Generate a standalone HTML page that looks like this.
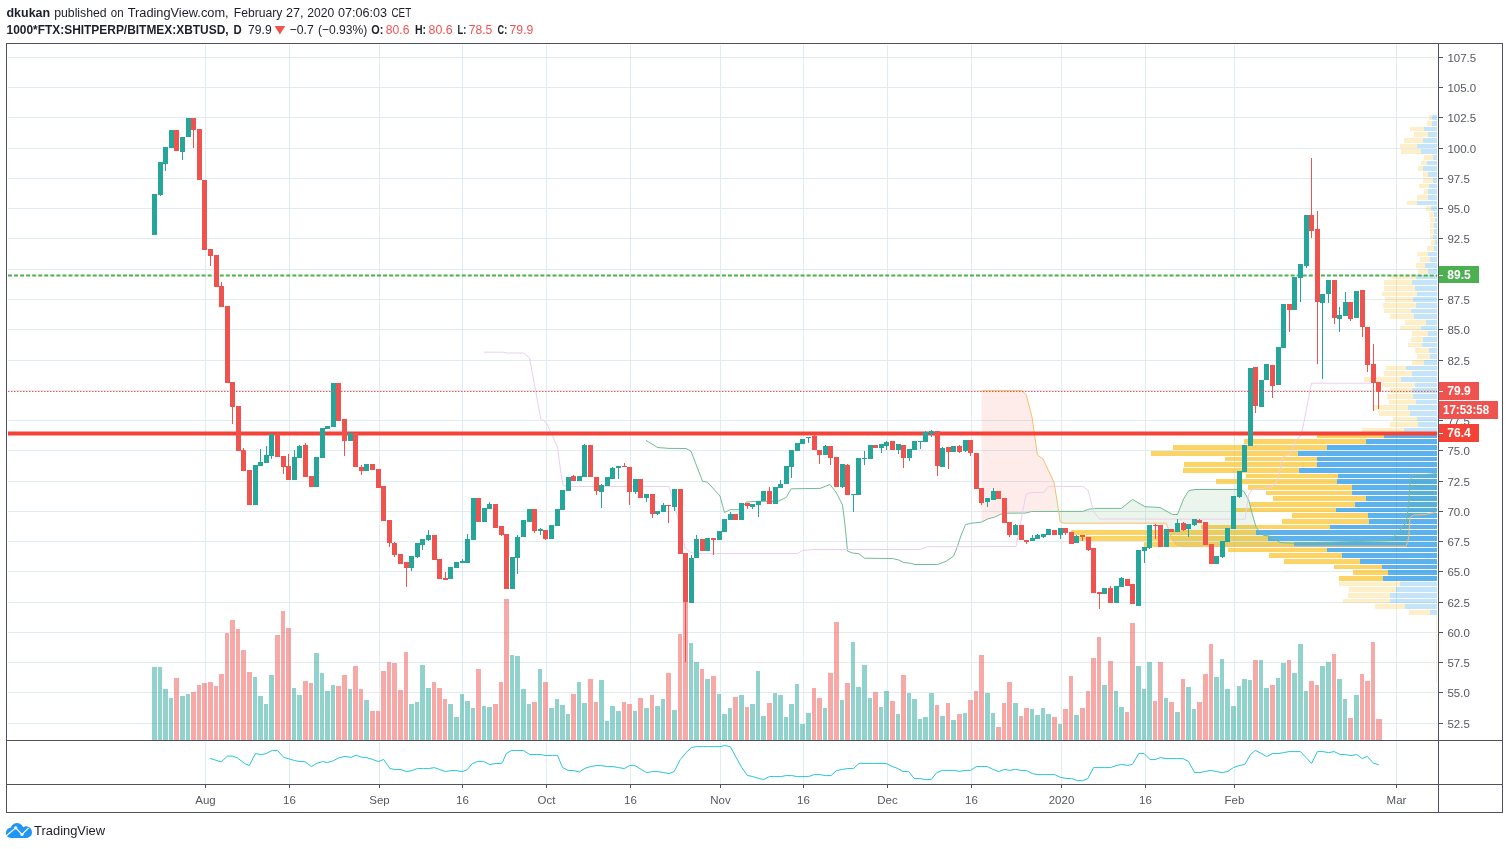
<!DOCTYPE html>
<html><head><meta charset="utf-8"><title>TradingView chart</title>
<style>
html,body{margin:0;padding:0;background:#fff;}
body{width:1509px;height:849px;overflow:hidden;font-family:"Liberation Sans",sans-serif;}
svg{display:block;font-family:"Liberation Sans",sans-serif;will-change:transform;}
</style></head><body>
<svg width="1509" height="849" viewBox="0 0 1509 849">
<rect width="1509" height="849" fill="#fff"/>
<g shape-rendering="crispEdges">
<rect x="8" y="57" width="1429" height="1" fill="#e1ecf2"/>
<rect x="8" y="87" width="1429" height="1" fill="#e1ecf2"/>
<rect x="8" y="117" width="1429" height="1" fill="#e1ecf2"/>
<rect x="8" y="148" width="1429" height="1" fill="#e1ecf2"/>
<rect x="8" y="178" width="1429" height="1" fill="#e1ecf2"/>
<rect x="8" y="208" width="1429" height="1" fill="#e1ecf2"/>
<rect x="8" y="238" width="1429" height="1" fill="#e1ecf2"/>
<rect x="8" y="269" width="1429" height="1" fill="#e1ecf2"/>
<rect x="8" y="299" width="1429" height="1" fill="#e1ecf2"/>
<rect x="8" y="329" width="1429" height="1" fill="#e1ecf2"/>
<rect x="8" y="360" width="1429" height="1" fill="#e1ecf2"/>
<rect x="8" y="390" width="1429" height="1" fill="#e1ecf2"/>
<rect x="8" y="420" width="1429" height="1" fill="#e1ecf2"/>
<rect x="8" y="450" width="1429" height="1" fill="#e1ecf2"/>
<rect x="8" y="481" width="1429" height="1" fill="#e1ecf2"/>
<rect x="8" y="511" width="1429" height="1" fill="#e1ecf2"/>
<rect x="8" y="541" width="1429" height="1" fill="#e1ecf2"/>
<rect x="8" y="571" width="1429" height="1" fill="#e1ecf2"/>
<rect x="8" y="602" width="1429" height="1" fill="#e1ecf2"/>
<rect x="8" y="632" width="1429" height="1" fill="#e1ecf2"/>
<rect x="8" y="662" width="1429" height="1" fill="#e1ecf2"/>
<rect x="8" y="692" width="1429" height="1" fill="#e1ecf2"/>
<rect x="8" y="723" width="1429" height="1" fill="#e1ecf2"/>
<rect x="205" y="45" width="1" height="695" fill="#e1ecf2"/>
<rect x="205" y="742" width="1" height="42" fill="#e1ecf2"/>
<rect x="289" y="45" width="1" height="695" fill="#e1ecf2"/>
<rect x="289" y="742" width="1" height="42" fill="#e1ecf2"/>
<rect x="379" y="45" width="1" height="695" fill="#e1ecf2"/>
<rect x="379" y="742" width="1" height="42" fill="#e1ecf2"/>
<rect x="462" y="45" width="1" height="695" fill="#e1ecf2"/>
<rect x="462" y="742" width="1" height="42" fill="#e1ecf2"/>
<rect x="546" y="45" width="1" height="695" fill="#e1ecf2"/>
<rect x="546" y="742" width="1" height="42" fill="#e1ecf2"/>
<rect x="630" y="45" width="1" height="695" fill="#e1ecf2"/>
<rect x="630" y="742" width="1" height="42" fill="#e1ecf2"/>
<rect x="720" y="45" width="1" height="695" fill="#e1ecf2"/>
<rect x="720" y="742" width="1" height="42" fill="#e1ecf2"/>
<rect x="803" y="45" width="1" height="695" fill="#e1ecf2"/>
<rect x="803" y="742" width="1" height="42" fill="#e1ecf2"/>
<rect x="887" y="45" width="1" height="695" fill="#e1ecf2"/>
<rect x="887" y="742" width="1" height="42" fill="#e1ecf2"/>
<rect x="971" y="45" width="1" height="695" fill="#e1ecf2"/>
<rect x="971" y="742" width="1" height="42" fill="#e1ecf2"/>
<rect x="1061" y="45" width="1" height="695" fill="#e1ecf2"/>
<rect x="1061" y="742" width="1" height="42" fill="#e1ecf2"/>
<rect x="1145" y="45" width="1" height="695" fill="#e1ecf2"/>
<rect x="1145" y="742" width="1" height="42" fill="#e1ecf2"/>
<rect x="1234" y="45" width="1" height="695" fill="#e1ecf2"/>
<rect x="1234" y="742" width="1" height="42" fill="#e1ecf2"/>
<rect x="1396" y="45" width="1" height="695" fill="#e1ecf2"/>
<rect x="1396" y="742" width="1" height="42" fill="#e1ecf2"/>
</g>
<g shape-rendering="crispEdges">
<rect x="1429" y="115" width="3" height="5" fill="rgba(251,193,35,0.25)"/>
<rect x="1432" y="115" width="5" height="5" fill="rgba(21,146,230,0.25)"/>
<rect x="1427" y="121" width="5" height="5" fill="rgba(251,193,35,0.25)"/>
<rect x="1432" y="121" width="5" height="5" fill="rgba(21,146,230,0.25)"/>
<rect x="1410" y="127" width="14" height="4" fill="rgba(251,193,35,0.25)"/>
<rect x="1424" y="127" width="13" height="4" fill="rgba(21,146,230,0.25)"/>
<rect x="1414" y="132" width="14" height="5" fill="rgba(251,193,35,0.25)"/>
<rect x="1428" y="132" width="9" height="5" fill="rgba(21,146,230,0.25)"/>
<rect x="1404" y="138" width="19" height="5" fill="rgba(251,193,35,0.25)"/>
<rect x="1423" y="138" width="14" height="5" fill="rgba(21,146,230,0.25)"/>
<rect x="1400" y="144" width="17" height="4" fill="rgba(251,193,35,0.25)"/>
<rect x="1417" y="144" width="20" height="4" fill="rgba(21,146,230,0.25)"/>
<rect x="1401" y="149" width="20" height="5" fill="rgba(251,193,35,0.25)"/>
<rect x="1421" y="149" width="16" height="5" fill="rgba(21,146,230,0.25)"/>
<rect x="1424" y="155" width="9" height="5" fill="rgba(251,193,35,0.25)"/>
<rect x="1433" y="155" width="4" height="5" fill="rgba(21,146,230,0.25)"/>
<rect x="1421" y="161" width="6" height="4" fill="rgba(251,193,35,0.25)"/>
<rect x="1427" y="161" width="10" height="4" fill="rgba(21,146,230,0.25)"/>
<rect x="1418" y="166" width="5" height="5" fill="rgba(251,193,35,0.25)"/>
<rect x="1423" y="166" width="14" height="5" fill="rgba(21,146,230,0.25)"/>
<rect x="1423" y="172" width="5" height="5" fill="rgba(251,193,35,0.25)"/>
<rect x="1428" y="172" width="9" height="5" fill="rgba(21,146,230,0.25)"/>
<rect x="1423" y="178" width="10" height="5" fill="rgba(251,193,35,0.25)"/>
<rect x="1433" y="178" width="4" height="5" fill="rgba(21,146,230,0.25)"/>
<rect x="1419" y="184" width="10" height="4" fill="rgba(251,193,35,0.25)"/>
<rect x="1429" y="184" width="8" height="4" fill="rgba(21,146,230,0.25)"/>
<rect x="1424" y="189" width="4" height="5" fill="rgba(251,193,35,0.25)"/>
<rect x="1428" y="189" width="9" height="5" fill="rgba(21,146,230,0.25)"/>
<rect x="1417" y="195" width="11" height="5" fill="rgba(251,193,35,0.25)"/>
<rect x="1428" y="195" width="9" height="5" fill="rgba(21,146,230,0.25)"/>
<rect x="1407" y="201" width="10" height="4" fill="rgba(251,193,35,0.25)"/>
<rect x="1417" y="201" width="20" height="4" fill="rgba(21,146,230,0.25)"/>
<rect x="1426" y="206" width="5" height="5" fill="rgba(251,193,35,0.25)"/>
<rect x="1431" y="206" width="6" height="5" fill="rgba(21,146,230,0.25)"/>
<rect x="1429" y="212" width="5" height="5" fill="rgba(251,193,35,0.25)"/>
<rect x="1434" y="212" width="3" height="5" fill="rgba(21,146,230,0.25)"/>
<rect x="1430" y="218" width="5" height="4" fill="rgba(251,193,35,0.25)"/>
<rect x="1435" y="218" width="2" height="4" fill="rgba(21,146,230,0.25)"/>
<rect x="1430" y="223" width="4" height="5" fill="rgba(251,193,35,0.25)"/>
<rect x="1434" y="223" width="3" height="5" fill="rgba(21,146,230,0.25)"/>
<rect x="1430" y="229" width="4" height="5" fill="rgba(251,193,35,0.25)"/>
<rect x="1434" y="229" width="3" height="5" fill="rgba(21,146,230,0.25)"/>
<rect x="1430" y="235" width="3" height="4" fill="rgba(251,193,35,0.25)"/>
<rect x="1433" y="235" width="4" height="4" fill="rgba(21,146,230,0.25)"/>
<rect x="1431" y="240" width="4" height="5" fill="rgba(251,193,35,0.25)"/>
<rect x="1435" y="240" width="2" height="5" fill="rgba(21,146,230,0.25)"/>
<rect x="1427" y="246" width="7" height="5" fill="rgba(251,193,35,0.25)"/>
<rect x="1434" y="246" width="3" height="5" fill="rgba(21,146,230,0.25)"/>
<rect x="1417" y="252" width="11" height="4" fill="rgba(251,193,35,0.25)"/>
<rect x="1428" y="252" width="9" height="4" fill="rgba(21,146,230,0.25)"/>
<rect x="1420" y="257" width="10" height="5" fill="rgba(251,193,35,0.25)"/>
<rect x="1430" y="257" width="7" height="5" fill="rgba(21,146,230,0.25)"/>
<rect x="1416" y="263" width="9" height="5" fill="rgba(251,193,35,0.25)"/>
<rect x="1425" y="263" width="12" height="5" fill="rgba(21,146,230,0.25)"/>
<rect x="1418" y="269" width="10" height="5" fill="rgba(251,193,35,0.25)"/>
<rect x="1428" y="269" width="9" height="5" fill="rgba(21,146,230,0.25)"/>
<rect x="1391" y="275" width="25" height="4" fill="rgba(251,193,35,0.25)"/>
<rect x="1416" y="275" width="21" height="4" fill="rgba(21,146,230,0.25)"/>
<rect x="1384" y="280" width="28" height="5" fill="rgba(251,193,35,0.25)"/>
<rect x="1412" y="280" width="25" height="5" fill="rgba(21,146,230,0.25)"/>
<rect x="1384" y="286" width="31" height="5" fill="rgba(251,193,35,0.25)"/>
<rect x="1415" y="286" width="22" height="5" fill="rgba(21,146,230,0.25)"/>
<rect x="1382" y="292" width="35" height="4" fill="rgba(251,193,35,0.25)"/>
<rect x="1417" y="292" width="20" height="4" fill="rgba(21,146,230,0.25)"/>
<rect x="1385" y="297" width="28" height="5" fill="rgba(251,193,35,0.25)"/>
<rect x="1413" y="297" width="24" height="5" fill="rgba(21,146,230,0.25)"/>
<rect x="1383" y="303" width="33" height="5" fill="rgba(251,193,35,0.25)"/>
<rect x="1416" y="303" width="21" height="5" fill="rgba(21,146,230,0.25)"/>
<rect x="1384" y="309" width="27" height="4" fill="rgba(251,193,35,0.25)"/>
<rect x="1411" y="309" width="26" height="4" fill="rgba(21,146,230,0.25)"/>
<rect x="1390" y="314" width="24" height="5" fill="rgba(251,193,35,0.25)"/>
<rect x="1414" y="314" width="23" height="5" fill="rgba(21,146,230,0.25)"/>
<rect x="1405" y="320" width="21" height="5" fill="rgba(251,193,35,0.25)"/>
<rect x="1426" y="320" width="11" height="5" fill="rgba(21,146,230,0.25)"/>
<rect x="1400" y="326" width="21" height="4" fill="rgba(251,193,35,0.25)"/>
<rect x="1421" y="326" width="16" height="4" fill="rgba(21,146,230,0.25)"/>
<rect x="1412" y="331" width="16" height="5" fill="rgba(251,193,35,0.25)"/>
<rect x="1428" y="331" width="9" height="5" fill="rgba(21,146,230,0.25)"/>
<rect x="1411" y="337" width="12" height="5" fill="rgba(251,193,35,0.25)"/>
<rect x="1423" y="337" width="14" height="5" fill="rgba(21,146,230,0.25)"/>
<rect x="1408" y="343" width="14" height="4" fill="rgba(251,193,35,0.25)"/>
<rect x="1422" y="343" width="15" height="4" fill="rgba(21,146,230,0.25)"/>
<rect x="1415" y="348" width="14" height="5" fill="rgba(251,193,35,0.25)"/>
<rect x="1429" y="348" width="8" height="5" fill="rgba(21,146,230,0.25)"/>
<rect x="1417" y="354" width="13" height="5" fill="rgba(251,193,35,0.25)"/>
<rect x="1430" y="354" width="7" height="5" fill="rgba(21,146,230,0.25)"/>
<rect x="1412" y="360" width="12" height="5" fill="rgba(251,193,35,0.25)"/>
<rect x="1424" y="360" width="13" height="5" fill="rgba(21,146,230,0.25)"/>
<rect x="1386" y="366" width="20" height="4" fill="rgba(251,193,35,0.25)"/>
<rect x="1406" y="366" width="31" height="4" fill="rgba(21,146,230,0.25)"/>
<rect x="1384" y="371" width="28" height="5" fill="rgba(251,193,35,0.25)"/>
<rect x="1412" y="371" width="25" height="5" fill="rgba(21,146,230,0.25)"/>
<rect x="1364" y="377" width="37" height="5" fill="rgba(251,193,35,0.25)"/>
<rect x="1401" y="377" width="36" height="5" fill="rgba(21,146,230,0.25)"/>
<rect x="1382" y="383" width="33" height="4" fill="rgba(251,193,35,0.25)"/>
<rect x="1415" y="383" width="22" height="4" fill="rgba(21,146,230,0.25)"/>
<rect x="1390" y="388" width="22" height="5" fill="rgba(251,193,35,0.25)"/>
<rect x="1412" y="388" width="25" height="5" fill="rgba(21,146,230,0.25)"/>
<rect x="1387" y="394" width="26" height="5" fill="rgba(251,193,35,0.25)"/>
<rect x="1413" y="394" width="24" height="5" fill="rgba(21,146,230,0.25)"/>
<rect x="1389" y="400" width="27" height="4" fill="rgba(251,193,35,0.25)"/>
<rect x="1416" y="400" width="21" height="4" fill="rgba(21,146,230,0.25)"/>
<rect x="1374" y="405" width="34" height="5" fill="rgba(251,193,35,0.25)"/>
<rect x="1408" y="405" width="29" height="5" fill="rgba(21,146,230,0.25)"/>
<rect x="1379" y="411" width="31" height="5" fill="rgba(251,193,35,0.25)"/>
<rect x="1410" y="411" width="27" height="5" fill="rgba(21,146,230,0.25)"/>
<rect x="1393" y="417" width="24" height="4" fill="rgba(251,193,35,0.25)"/>
<rect x="1417" y="417" width="20" height="4" fill="rgba(21,146,230,0.25)"/>
<rect x="1390" y="422" width="28" height="5" fill="rgba(251,193,35,0.25)"/>
<rect x="1418" y="422" width="19" height="5" fill="rgba(21,146,230,0.25)"/>
<rect x="1362" y="428" width="42" height="5" fill="rgba(251,193,35,0.25)"/>
<rect x="1404" y="428" width="33" height="5" fill="rgba(21,146,230,0.25)"/>
<rect x="1317" y="434" width="67" height="4" fill="rgba(251,193,35,0.7)"/>
<rect x="1384" y="434" width="53" height="4" fill="rgba(21,146,230,0.7)"/>
<rect x="1244" y="439" width="122" height="5" fill="rgba(251,193,35,0.7)"/>
<rect x="1366" y="439" width="71" height="5" fill="rgba(21,146,230,0.7)"/>
<rect x="1173" y="445" width="154" height="5" fill="rgba(251,193,35,0.7)"/>
<rect x="1327" y="445" width="110" height="5" fill="rgba(21,146,230,0.7)"/>
<rect x="1151" y="451" width="147" height="5" fill="rgba(251,193,35,0.7)"/>
<rect x="1298" y="451" width="139" height="5" fill="rgba(21,146,230,0.7)"/>
<rect x="1225" y="457" width="92" height="4" fill="rgba(251,193,35,0.7)"/>
<rect x="1317" y="457" width="120" height="4" fill="rgba(21,146,230,0.7)"/>
<rect x="1184" y="462" width="133" height="5" fill="rgba(251,193,35,0.7)"/>
<rect x="1317" y="462" width="120" height="5" fill="rgba(21,146,230,0.7)"/>
<rect x="1183" y="468" width="116" height="5" fill="rgba(251,193,35,0.7)"/>
<rect x="1299" y="468" width="138" height="5" fill="rgba(21,146,230,0.7)"/>
<rect x="1246" y="474" width="92" height="4" fill="rgba(251,193,35,0.7)"/>
<rect x="1338" y="474" width="99" height="4" fill="rgba(21,146,230,0.7)"/>
<rect x="1216" y="479" width="121" height="5" fill="rgba(251,193,35,0.7)"/>
<rect x="1337" y="479" width="100" height="5" fill="rgba(21,146,230,0.7)"/>
<rect x="1248" y="485" width="104" height="5" fill="rgba(251,193,35,0.7)"/>
<rect x="1352" y="485" width="85" height="5" fill="rgba(21,146,230,0.7)"/>
<rect x="1266" y="491" width="86" height="4" fill="rgba(251,193,35,0.7)"/>
<rect x="1352" y="491" width="85" height="4" fill="rgba(21,146,230,0.7)"/>
<rect x="1273" y="496" width="93" height="5" fill="rgba(251,193,35,0.7)"/>
<rect x="1366" y="496" width="71" height="5" fill="rgba(21,146,230,0.7)"/>
<rect x="1250" y="502" width="105" height="5" fill="rgba(251,193,35,0.7)"/>
<rect x="1355" y="502" width="82" height="5" fill="rgba(21,146,230,0.7)"/>
<rect x="1236" y="508" width="100" height="4" fill="rgba(251,193,35,0.7)"/>
<rect x="1336" y="508" width="101" height="4" fill="rgba(21,146,230,0.7)"/>
<rect x="1292" y="513" width="76" height="5" fill="rgba(251,193,35,0.7)"/>
<rect x="1368" y="513" width="69" height="5" fill="rgba(21,146,230,0.7)"/>
<rect x="1282" y="519" width="87" height="5" fill="rgba(251,193,35,0.7)"/>
<rect x="1369" y="519" width="68" height="5" fill="rgba(21,146,230,0.7)"/>
<rect x="1201" y="525" width="129" height="4" fill="rgba(251,193,35,0.7)"/>
<rect x="1330" y="525" width="107" height="4" fill="rgba(21,146,230,0.7)"/>
<rect x="1071" y="530" width="185" height="5" fill="rgba(251,193,35,0.7)"/>
<rect x="1256" y="530" width="181" height="5" fill="rgba(21,146,230,0.7)"/>
<rect x="1079" y="536" width="189" height="5" fill="rgba(251,193,35,0.7)"/>
<rect x="1268" y="536" width="169" height="5" fill="rgba(21,146,230,0.7)"/>
<rect x="1144" y="542" width="150" height="5" fill="rgba(251,193,35,0.7)"/>
<rect x="1294" y="542" width="143" height="5" fill="rgba(21,146,230,0.7)"/>
<rect x="1228" y="548" width="99" height="4" fill="rgba(251,193,35,0.7)"/>
<rect x="1327" y="548" width="110" height="4" fill="rgba(21,146,230,0.7)"/>
<rect x="1269" y="553" width="73" height="5" fill="rgba(251,193,35,0.7)"/>
<rect x="1342" y="553" width="95" height="5" fill="rgba(21,146,230,0.7)"/>
<rect x="1284" y="559" width="76" height="5" fill="rgba(251,193,35,0.7)"/>
<rect x="1360" y="559" width="77" height="5" fill="rgba(21,146,230,0.7)"/>
<rect x="1334" y="565" width="48" height="4" fill="rgba(251,193,35,0.7)"/>
<rect x="1382" y="565" width="55" height="4" fill="rgba(21,146,230,0.7)"/>
<rect x="1353" y="570" width="35" height="5" fill="rgba(251,193,35,0.7)"/>
<rect x="1388" y="570" width="49" height="5" fill="rgba(21,146,230,0.7)"/>
<rect x="1339" y="576" width="44" height="5" fill="rgba(251,193,35,0.7)"/>
<rect x="1383" y="576" width="54" height="5" fill="rgba(21,146,230,0.7)"/>
<rect x="1339" y="582" width="61" height="4" fill="rgba(251,193,35,0.25)"/>
<rect x="1400" y="582" width="37" height="4" fill="rgba(21,146,230,0.25)"/>
<rect x="1349" y="587" width="47" height="5" fill="rgba(251,193,35,0.25)"/>
<rect x="1396" y="587" width="41" height="5" fill="rgba(21,146,230,0.25)"/>
<rect x="1348" y="593" width="42" height="5" fill="rgba(251,193,35,0.25)"/>
<rect x="1390" y="593" width="47" height="5" fill="rgba(21,146,230,0.25)"/>
<rect x="1343" y="599" width="47" height="4" fill="rgba(251,193,35,0.25)"/>
<rect x="1390" y="599" width="47" height="4" fill="rgba(21,146,230,0.25)"/>
<rect x="1375" y="604" width="30" height="5" fill="rgba(251,193,35,0.25)"/>
<rect x="1405" y="604" width="32" height="5" fill="rgba(21,146,230,0.25)"/>
<rect x="1409" y="610" width="21" height="5" fill="rgba(251,193,35,0.25)"/>
<rect x="1430" y="610" width="7" height="5" fill="rgba(21,146,230,0.25)"/>
<rect x="1436" y="616" width="1" height="4" fill="rgba(251,193,35,0.25)"/>
<rect x="1436" y="621" width="1" height="5" fill="rgba(251,193,35,0.25)"/>
<rect x="1436" y="627" width="1" height="5" fill="rgba(251,193,35,0.25)"/>
<rect x="1436" y="633" width="1" height="5" fill="rgba(251,193,35,0.25)"/>
<rect x="1436" y="639" width="1" height="4" fill="rgba(251,193,35,0.25)"/>
<rect x="1436" y="644" width="1" height="5" fill="rgba(251,193,35,0.25)"/>
<rect x="1436" y="650" width="1" height="5" fill="rgba(251,193,35,0.25)"/>
<rect x="1436" y="656" width="1" height="4" fill="rgba(251,193,35,0.25)"/>
<rect x="1436" y="661" width="1" height="5" fill="rgba(251,193,35,0.25)"/>
<rect x="1436" y="667" width="1" height="5" fill="rgba(251,193,35,0.25)"/>
<rect x="1436" y="673" width="1" height="4" fill="rgba(251,193,35,0.25)"/>
<rect x="1436" y="678" width="1" height="5" fill="rgba(251,193,35,0.25)"/>
</g>
<g shape-rendering="crispEdges">
<rect x="152" y="667" width="5" height="73" fill="rgba(38,166,154,0.5)"/>
<rect x="158" y="667" width="4" height="73" fill="rgba(38,166,154,0.5)"/>
<rect x="163" y="689" width="5" height="51" fill="rgba(38,166,154,0.5)"/>
<rect x="169" y="698" width="4" height="42" fill="rgba(38,166,154,0.5)"/>
<rect x="174" y="678" width="5" height="62" fill="rgba(239,83,80,0.5)"/>
<rect x="180" y="696" width="5" height="44" fill="rgba(38,166,154,0.5)"/>
<rect x="186" y="694" width="4" height="46" fill="rgba(38,166,154,0.5)"/>
<rect x="191" y="692" width="5" height="48" fill="rgba(239,83,80,0.5)"/>
<rect x="197" y="685" width="4" height="55" fill="rgba(239,83,80,0.5)"/>
<rect x="202" y="683" width="5" height="57" fill="rgba(239,83,80,0.5)"/>
<rect x="208" y="682" width="5" height="58" fill="rgba(239,83,80,0.5)"/>
<rect x="214" y="686" width="4" height="54" fill="rgba(239,83,80,0.5)"/>
<rect x="219" y="674" width="5" height="66" fill="rgba(239,83,80,0.5)"/>
<rect x="225" y="633" width="4" height="107" fill="rgba(239,83,80,0.5)"/>
<rect x="230" y="620" width="5" height="120" fill="rgba(239,83,80,0.5)"/>
<rect x="236" y="629" width="4" height="111" fill="rgba(239,83,80,0.5)"/>
<rect x="241" y="650" width="5" height="90" fill="rgba(239,83,80,0.5)"/>
<rect x="247" y="672" width="5" height="68" fill="rgba(239,83,80,0.5)"/>
<rect x="253" y="677" width="4" height="63" fill="rgba(38,166,154,0.5)"/>
<rect x="258" y="696" width="5" height="44" fill="rgba(38,166,154,0.5)"/>
<rect x="264" y="704" width="4" height="36" fill="rgba(38,166,154,0.5)"/>
<rect x="269" y="675" width="5" height="65" fill="rgba(38,166,154,0.5)"/>
<rect x="275" y="635" width="5" height="105" fill="rgba(239,83,80,0.5)"/>
<rect x="281" y="611" width="4" height="129" fill="rgba(239,83,80,0.5)"/>
<rect x="286" y="628" width="5" height="112" fill="rgba(239,83,80,0.5)"/>
<rect x="292" y="688" width="4" height="52" fill="rgba(38,166,154,0.5)"/>
<rect x="297" y="695" width="5" height="45" fill="rgba(38,166,154,0.5)"/>
<rect x="303" y="681" width="5" height="59" fill="rgba(239,83,80,0.5)"/>
<rect x="309" y="683" width="4" height="57" fill="rgba(239,83,80,0.5)"/>
<rect x="314" y="653" width="5" height="87" fill="rgba(38,166,154,0.5)"/>
<rect x="320" y="673" width="4" height="67" fill="rgba(38,166,154,0.5)"/>
<rect x="325" y="691" width="5" height="49" fill="rgba(38,166,154,0.5)"/>
<rect x="331" y="685" width="4" height="55" fill="rgba(38,166,154,0.5)"/>
<rect x="336" y="686" width="5" height="54" fill="rgba(239,83,80,0.5)"/>
<rect x="342" y="675" width="5" height="65" fill="rgba(239,83,80,0.5)"/>
<rect x="348" y="689" width="4" height="51" fill="rgba(38,166,154,0.5)"/>
<rect x="353" y="666" width="5" height="74" fill="rgba(239,83,80,0.5)"/>
<rect x="359" y="689" width="4" height="51" fill="rgba(239,83,80,0.5)"/>
<rect x="364" y="700" width="5" height="40" fill="rgba(38,166,154,0.5)"/>
<rect x="370" y="711" width="5" height="29" fill="rgba(239,83,80,0.5)"/>
<rect x="376" y="711" width="4" height="29" fill="rgba(239,83,80,0.5)"/>
<rect x="381" y="671" width="5" height="69" fill="rgba(239,83,80,0.5)"/>
<rect x="387" y="662" width="4" height="78" fill="rgba(239,83,80,0.5)"/>
<rect x="392" y="663" width="5" height="77" fill="rgba(239,83,80,0.5)"/>
<rect x="398" y="690" width="5" height="50" fill="rgba(239,83,80,0.5)"/>
<rect x="404" y="652" width="4" height="88" fill="rgba(239,83,80,0.5)"/>
<rect x="409" y="704" width="5" height="36" fill="rgba(38,166,154,0.5)"/>
<rect x="415" y="702" width="4" height="38" fill="rgba(38,166,154,0.5)"/>
<rect x="420" y="665" width="5" height="75" fill="rgba(38,166,154,0.5)"/>
<rect x="426" y="688" width="5" height="52" fill="rgba(38,166,154,0.5)"/>
<rect x="432" y="682" width="4" height="58" fill="rgba(239,83,80,0.5)"/>
<rect x="437" y="688" width="5" height="52" fill="rgba(239,83,80,0.5)"/>
<rect x="443" y="699" width="4" height="41" fill="rgba(239,83,80,0.5)"/>
<rect x="448" y="704" width="5" height="36" fill="rgba(38,166,154,0.5)"/>
<rect x="454" y="717" width="5" height="23" fill="rgba(38,166,154,0.5)"/>
<rect x="460" y="694" width="4" height="46" fill="rgba(38,166,154,0.5)"/>
<rect x="465" y="701" width="5" height="39" fill="rgba(38,166,154,0.5)"/>
<rect x="471" y="708" width="4" height="32" fill="rgba(38,166,154,0.5)"/>
<rect x="476" y="669" width="5" height="71" fill="rgba(239,83,80,0.5)"/>
<rect x="482" y="706" width="4" height="34" fill="rgba(38,166,154,0.5)"/>
<rect x="487" y="707" width="5" height="33" fill="rgba(38,166,154,0.5)"/>
<rect x="493" y="704" width="5" height="36" fill="rgba(239,83,80,0.5)"/>
<rect x="499" y="682" width="4" height="58" fill="rgba(239,83,80,0.5)"/>
<rect x="504" y="599" width="5" height="141" fill="rgba(239,83,80,0.5)"/>
<rect x="510" y="655" width="4" height="85" fill="rgba(38,166,154,0.5)"/>
<rect x="515" y="656" width="5" height="84" fill="rgba(38,166,154,0.5)"/>
<rect x="521" y="689" width="5" height="51" fill="rgba(38,166,154,0.5)"/>
<rect x="527" y="704" width="4" height="36" fill="rgba(38,166,154,0.5)"/>
<rect x="532" y="702" width="5" height="38" fill="rgba(239,83,80,0.5)"/>
<rect x="538" y="669" width="4" height="71" fill="rgba(38,166,154,0.5)"/>
<rect x="543" y="682" width="5" height="58" fill="rgba(239,83,80,0.5)"/>
<rect x="549" y="708" width="5" height="32" fill="rgba(38,166,154,0.5)"/>
<rect x="555" y="699" width="4" height="41" fill="rgba(38,166,154,0.5)"/>
<rect x="560" y="705" width="5" height="35" fill="rgba(38,166,154,0.5)"/>
<rect x="566" y="714" width="4" height="26" fill="rgba(38,166,154,0.5)"/>
<rect x="571" y="694" width="5" height="46" fill="rgba(239,83,80,0.5)"/>
<rect x="577" y="682" width="4" height="58" fill="rgba(38,166,154,0.5)"/>
<rect x="582" y="703" width="5" height="37" fill="rgba(38,166,154,0.5)"/>
<rect x="588" y="679" width="5" height="61" fill="rgba(239,83,80,0.5)"/>
<rect x="594" y="702" width="4" height="38" fill="rgba(239,83,80,0.5)"/>
<rect x="599" y="680" width="5" height="60" fill="rgba(38,166,154,0.5)"/>
<rect x="605" y="721" width="4" height="19" fill="rgba(38,166,154,0.5)"/>
<rect x="610" y="706" width="5" height="34" fill="rgba(38,166,154,0.5)"/>
<rect x="616" y="711" width="5" height="29" fill="rgba(38,166,154,0.5)"/>
<rect x="622" y="702" width="4" height="38" fill="rgba(239,83,80,0.5)"/>
<rect x="627" y="704" width="5" height="36" fill="rgba(239,83,80,0.5)"/>
<rect x="633" y="711" width="4" height="29" fill="rgba(38,166,154,0.5)"/>
<rect x="638" y="698" width="5" height="42" fill="rgba(239,83,80,0.5)"/>
<rect x="644" y="708" width="5" height="32" fill="rgba(38,166,154,0.5)"/>
<rect x="650" y="695" width="4" height="45" fill="rgba(239,83,80,0.5)"/>
<rect x="655" y="706" width="5" height="34" fill="rgba(38,166,154,0.5)"/>
<rect x="661" y="699" width="4" height="41" fill="rgba(38,166,154,0.5)"/>
<rect x="666" y="673" width="5" height="67" fill="rgba(239,83,80,0.5)"/>
<rect x="672" y="710" width="5" height="30" fill="rgba(38,166,154,0.5)"/>
<rect x="678" y="634" width="4" height="106" fill="rgba(239,83,80,0.5)"/>
<rect x="683" y="597" width="5" height="143" fill="rgba(239,83,80,0.5)"/>
<rect x="689" y="643" width="4" height="97" fill="rgba(38,166,154,0.5)"/>
<rect x="694" y="662" width="5" height="78" fill="rgba(38,166,154,0.5)"/>
<rect x="700" y="669" width="4" height="71" fill="rgba(239,83,80,0.5)"/>
<rect x="705" y="679" width="5" height="61" fill="rgba(38,166,154,0.5)"/>
<rect x="711" y="676" width="5" height="64" fill="rgba(239,83,80,0.5)"/>
<rect x="717" y="694" width="4" height="46" fill="rgba(38,166,154,0.5)"/>
<rect x="722" y="714" width="5" height="26" fill="rgba(38,166,154,0.5)"/>
<rect x="728" y="708" width="4" height="32" fill="rgba(38,166,154,0.5)"/>
<rect x="733" y="697" width="5" height="43" fill="rgba(239,83,80,0.5)"/>
<rect x="739" y="695" width="5" height="45" fill="rgba(38,166,154,0.5)"/>
<rect x="745" y="707" width="4" height="33" fill="rgba(239,83,80,0.5)"/>
<rect x="750" y="704" width="5" height="36" fill="rgba(38,166,154,0.5)"/>
<rect x="756" y="671" width="4" height="69" fill="rgba(38,166,154,0.5)"/>
<rect x="761" y="716" width="5" height="24" fill="rgba(38,166,154,0.5)"/>
<rect x="767" y="703" width="5" height="37" fill="rgba(239,83,80,0.5)"/>
<rect x="773" y="693" width="4" height="47" fill="rgba(38,166,154,0.5)"/>
<rect x="778" y="695" width="5" height="45" fill="rgba(38,166,154,0.5)"/>
<rect x="784" y="717" width="4" height="23" fill="rgba(38,166,154,0.5)"/>
<rect x="789" y="704" width="5" height="36" fill="rgba(38,166,154,0.5)"/>
<rect x="795" y="684" width="4" height="56" fill="rgba(38,166,154,0.5)"/>
<rect x="800" y="724" width="5" height="16" fill="rgba(38,166,154,0.5)"/>
<rect x="806" y="713" width="5" height="27" fill="rgba(38,166,154,0.5)"/>
<rect x="812" y="688" width="4" height="52" fill="rgba(239,83,80,0.5)"/>
<rect x="817" y="698" width="5" height="42" fill="rgba(239,83,80,0.5)"/>
<rect x="823" y="708" width="4" height="32" fill="rgba(38,166,154,0.5)"/>
<rect x="828" y="673" width="5" height="67" fill="rgba(239,83,80,0.5)"/>
<rect x="834" y="622" width="5" height="118" fill="rgba(239,83,80,0.5)"/>
<rect x="840" y="700" width="4" height="40" fill="rgba(38,166,154,0.5)"/>
<rect x="845" y="683" width="5" height="57" fill="rgba(239,83,80,0.5)"/>
<rect x="851" y="642" width="4" height="98" fill="rgba(38,166,154,0.5)"/>
<rect x="856" y="687" width="5" height="53" fill="rgba(38,166,154,0.5)"/>
<rect x="862" y="665" width="5" height="75" fill="rgba(38,166,154,0.5)"/>
<rect x="868" y="698" width="4" height="42" fill="rgba(38,166,154,0.5)"/>
<rect x="873" y="692" width="5" height="48" fill="rgba(239,83,80,0.5)"/>
<rect x="879" y="707" width="4" height="33" fill="rgba(38,166,154,0.5)"/>
<rect x="884" y="691" width="5" height="49" fill="rgba(38,166,154,0.5)"/>
<rect x="890" y="701" width="5" height="39" fill="rgba(239,83,80,0.5)"/>
<rect x="896" y="714" width="4" height="26" fill="rgba(38,166,154,0.5)"/>
<rect x="901" y="675" width="5" height="65" fill="rgba(239,83,80,0.5)"/>
<rect x="907" y="693" width="4" height="47" fill="rgba(38,166,154,0.5)"/>
<rect x="912" y="699" width="5" height="41" fill="rgba(38,166,154,0.5)"/>
<rect x="918" y="719" width="4" height="21" fill="rgba(38,166,154,0.5)"/>
<rect x="923" y="717" width="5" height="23" fill="rgba(38,166,154,0.5)"/>
<rect x="929" y="693" width="5" height="47" fill="rgba(38,166,154,0.5)"/>
<rect x="935" y="705" width="4" height="35" fill="rgba(239,83,80,0.5)"/>
<rect x="940" y="716" width="5" height="24" fill="rgba(38,166,154,0.5)"/>
<rect x="946" y="703" width="4" height="37" fill="rgba(239,83,80,0.5)"/>
<rect x="951" y="720" width="5" height="20" fill="rgba(38,166,154,0.5)"/>
<rect x="957" y="714" width="5" height="26" fill="rgba(239,83,80,0.5)"/>
<rect x="963" y="713" width="4" height="27" fill="rgba(38,166,154,0.5)"/>
<rect x="968" y="700" width="5" height="40" fill="rgba(239,83,80,0.5)"/>
<rect x="974" y="691" width="4" height="49" fill="rgba(239,83,80,0.5)"/>
<rect x="979" y="655" width="5" height="85" fill="rgba(239,83,80,0.5)"/>
<rect x="985" y="693" width="5" height="47" fill="rgba(38,166,154,0.5)"/>
<rect x="991" y="713" width="4" height="27" fill="rgba(38,166,154,0.5)"/>
<rect x="996" y="727" width="5" height="13" fill="rgba(239,83,80,0.5)"/>
<rect x="1002" y="703" width="4" height="37" fill="rgba(239,83,80,0.5)"/>
<rect x="1007" y="682" width="5" height="58" fill="rgba(239,83,80,0.5)"/>
<rect x="1013" y="703" width="5" height="37" fill="rgba(38,166,154,0.5)"/>
<rect x="1019" y="716" width="4" height="24" fill="rgba(239,83,80,0.5)"/>
<rect x="1024" y="708" width="5" height="32" fill="rgba(239,83,80,0.5)"/>
<rect x="1030" y="709" width="4" height="31" fill="rgba(38,166,154,0.5)"/>
<rect x="1035" y="715" width="5" height="25" fill="rgba(38,166,154,0.5)"/>
<rect x="1041" y="708" width="4" height="32" fill="rgba(38,166,154,0.5)"/>
<rect x="1046" y="714" width="5" height="26" fill="rgba(38,166,154,0.5)"/>
<rect x="1052" y="717" width="5" height="23" fill="rgba(239,83,80,0.5)"/>
<rect x="1058" y="724" width="4" height="16" fill="rgba(38,166,154,0.5)"/>
<rect x="1063" y="709" width="5" height="31" fill="rgba(239,83,80,0.5)"/>
<rect x="1069" y="676" width="4" height="64" fill="rgba(239,83,80,0.5)"/>
<rect x="1074" y="715" width="5" height="25" fill="rgba(38,166,154,0.5)"/>
<rect x="1080" y="708" width="5" height="32" fill="rgba(239,83,80,0.5)"/>
<rect x="1086" y="691" width="4" height="49" fill="rgba(239,83,80,0.5)"/>
<rect x="1091" y="658" width="5" height="82" fill="rgba(239,83,80,0.5)"/>
<rect x="1097" y="637" width="4" height="103" fill="rgba(239,83,80,0.5)"/>
<rect x="1102" y="685" width="5" height="55" fill="rgba(38,166,154,0.5)"/>
<rect x="1108" y="661" width="5" height="79" fill="rgba(239,83,80,0.5)"/>
<rect x="1114" y="691" width="4" height="49" fill="rgba(38,166,154,0.5)"/>
<rect x="1119" y="707" width="5" height="33" fill="rgba(38,166,154,0.5)"/>
<rect x="1125" y="712" width="4" height="28" fill="rgba(239,83,80,0.5)"/>
<rect x="1130" y="623" width="5" height="117" fill="rgba(239,83,80,0.5)"/>
<rect x="1136" y="666" width="5" height="74" fill="rgba(38,166,154,0.5)"/>
<rect x="1142" y="689" width="4" height="51" fill="rgba(38,166,154,0.5)"/>
<rect x="1147" y="662" width="5" height="78" fill="rgba(38,166,154,0.5)"/>
<rect x="1153" y="701" width="4" height="39" fill="rgba(239,83,80,0.5)"/>
<rect x="1158" y="662" width="5" height="78" fill="rgba(239,83,80,0.5)"/>
<rect x="1164" y="698" width="4" height="42" fill="rgba(38,166,154,0.5)"/>
<rect x="1169" y="702" width="5" height="38" fill="rgba(239,83,80,0.5)"/>
<rect x="1175" y="712" width="5" height="28" fill="rgba(38,166,154,0.5)"/>
<rect x="1181" y="679" width="4" height="61" fill="rgba(239,83,80,0.5)"/>
<rect x="1186" y="687" width="5" height="53" fill="rgba(38,166,154,0.5)"/>
<rect x="1192" y="709" width="4" height="31" fill="rgba(38,166,154,0.5)"/>
<rect x="1197" y="702" width="5" height="38" fill="rgba(239,83,80,0.5)"/>
<rect x="1203" y="674" width="5" height="66" fill="rgba(239,83,80,0.5)"/>
<rect x="1209" y="644" width="4" height="96" fill="rgba(239,83,80,0.5)"/>
<rect x="1214" y="677" width="5" height="63" fill="rgba(38,166,154,0.5)"/>
<rect x="1220" y="659" width="4" height="81" fill="rgba(38,166,154,0.5)"/>
<rect x="1225" y="689" width="5" height="51" fill="rgba(38,166,154,0.5)"/>
<rect x="1231" y="706" width="5" height="34" fill="rgba(38,166,154,0.5)"/>
<rect x="1237" y="686" width="4" height="54" fill="rgba(38,166,154,0.5)"/>
<rect x="1242" y="679" width="5" height="61" fill="rgba(38,166,154,0.5)"/>
<rect x="1248" y="680" width="4" height="60" fill="rgba(38,166,154,0.5)"/>
<rect x="1253" y="660" width="5" height="80" fill="rgba(239,83,80,0.5)"/>
<rect x="1259" y="660" width="4" height="80" fill="rgba(38,166,154,0.5)"/>
<rect x="1264" y="688" width="5" height="52" fill="rgba(38,166,154,0.5)"/>
<rect x="1270" y="685" width="5" height="55" fill="rgba(239,83,80,0.5)"/>
<rect x="1276" y="678" width="4" height="62" fill="rgba(38,166,154,0.5)"/>
<rect x="1281" y="663" width="5" height="77" fill="rgba(38,166,154,0.5)"/>
<rect x="1287" y="660" width="4" height="80" fill="rgba(239,83,80,0.5)"/>
<rect x="1292" y="673" width="5" height="67" fill="rgba(38,166,154,0.5)"/>
<rect x="1298" y="644" width="5" height="96" fill="rgba(38,166,154,0.5)"/>
<rect x="1304" y="691" width="4" height="49" fill="rgba(38,166,154,0.5)"/>
<rect x="1309" y="681" width="5" height="59" fill="rgba(239,83,80,0.5)"/>
<rect x="1315" y="685" width="4" height="55" fill="rgba(239,83,80,0.5)"/>
<rect x="1320" y="666" width="5" height="74" fill="rgba(38,166,154,0.5)"/>
<rect x="1326" y="662" width="5" height="78" fill="rgba(38,166,154,0.5)"/>
<rect x="1332" y="654" width="4" height="86" fill="rgba(239,83,80,0.5)"/>
<rect x="1337" y="679" width="5" height="61" fill="rgba(38,166,154,0.5)"/>
<rect x="1343" y="699" width="4" height="41" fill="rgba(38,166,154,0.5)"/>
<rect x="1348" y="718" width="5" height="22" fill="rgba(239,83,80,0.5)"/>
<rect x="1354" y="695" width="5" height="45" fill="rgba(38,166,154,0.5)"/>
<rect x="1360" y="674" width="4" height="66" fill="rgba(239,83,80,0.5)"/>
<rect x="1365" y="681" width="5" height="59" fill="rgba(239,83,80,0.5)"/>
<rect x="1371" y="642" width="4" height="98" fill="rgba(239,83,80,0.5)"/>
<rect x="1376" y="719" width="6" height="21" fill="rgba(239,83,80,0.5)"/>
</g>
<clipPath id="cr"><rect x="981" y="380" width="73.5" height="200"/></clipPath>
<clipPath id="cg"><rect x="1054.5" y="380" width="383" height="200"/></clipPath>
<polygon points="981.3,522.2 988,518.8 994.5,517.2 1000.3,514.4 1007,513.2 1025.5,513.1 1031.6,511.5 1082.8,511.4 1088.8,509.2 1094.4,508.4 1121.3,508.4 1132.5,499.5 1145,506.7 1160,507.5 1172.5,514.5 1177.5,514.5 1183.7,498.7 1188.7,490.7 1195,489.5 1237.5,489.5 1243.7,491.2 1248.7,500 1252.5,515 1256.2,527.5 1262.5,535 1270,536.2 1280,542.5 1292.5,543.2 1315,542.5 1390,540.7 1400,530 1406.2,522.5 1408.7,502.5 1410,480 1412.5,476 1425,474.5 1436.7,473.5 1436.7,512 1425,514.5 1413.7,515 1410,517.5 1408.7,537.5 1406.2,546.2 1180,546.2 1176.2,545 1171.2,537.5 1168.7,530 1166.2,523.2 1064.2,523.2 1060.2,521.8 1057.5,503.5 1054,482.3 1043,459 1037.4,455 1032.2,418 1026.2,394.6 1021.7,390.6 981.6,390.6" fill="rgba(244,67,54,0.1)" clip-path="url(#cr)"/>
<polygon points="981.3,522.2 988,518.8 994.5,517.2 1000.3,514.4 1007,513.2 1025.5,513.1 1031.6,511.5 1082.8,511.4 1088.8,509.2 1094.4,508.4 1121.3,508.4 1132.5,499.5 1145,506.7 1160,507.5 1172.5,514.5 1177.5,514.5 1183.7,498.7 1188.7,490.7 1195,489.5 1237.5,489.5 1243.7,491.2 1248.7,500 1252.5,515 1256.2,527.5 1262.5,535 1270,536.2 1280,542.5 1292.5,543.2 1315,542.5 1390,540.7 1400,530 1406.2,522.5 1408.7,502.5 1410,480 1412.5,476 1425,474.5 1436.7,473.5 1436.7,512 1425,514.5 1413.7,515 1410,517.5 1408.7,537.5 1406.2,546.2 1180,546.2 1176.2,545 1171.2,537.5 1168.7,530 1166.2,523.2 1064.2,523.2 1060.2,521.8 1057.5,503.5 1054,482.3 1043,459 1037.4,455 1032.2,418 1026.2,394.6 1021.7,390.6 981.6,390.6" fill="rgba(67,160,71,0.1)" clip-path="url(#cg)"/>
<polyline points="646,440.4 657.5,447.5 669,448.4 686,448.5 691,451.2 702.5,481.2 707.5,482.2 720,496 724.5,512.5 730,509.7 740.5,509.7 746.5,502 757.5,501.3 778,501.3 786.2,497.5 791.2,488.8 820,488.4 830,484.5 836.2,492.5 842.5,505 845,525 847.5,551 852.5,553 858.7,553.7 864.5,558.2 892.5,558.5 898.7,560 903.7,562.5 910,563.2 915,564.5 937.5,564.5 946.2,561.2 953.6,556 957.5,546.2 961.2,535 965.6,524.6 971.3,523.2 981.3,522.2 988,518.8 994.5,517.2 1000.3,514.4 1007,513.2 1025.5,513.1 1031.6,511.5 1082.8,511.4 1088.8,509.2 1094.4,508.4 1121.3,508.4 1132.5,499.5 1145,506.7 1160,507.5 1172.5,514.5 1177.5,514.5 1183.7,498.7 1188.7,490.7 1195,489.5 1237.5,489.5 1243.7,491.2 1248.7,500 1252.5,515 1256.2,527.5 1262.5,535 1270,536.2 1280,542.5 1292.5,543.2 1315,542.5 1390,540.7 1400,530 1406.2,522.5 1408.7,502.5 1410,480 1412.5,476 1425,474.5 1436.7,473.5" fill="none" stroke="#72bb98" stroke-width="1"/>
<polyline points="981.6,390.6 1021.7,390.6 1026.2,394.6 1032.2,418 1037.4,455 1043,459 1054,482.3 1057.5,503.5 1060.2,521.8 1064.2,523.2 1166.2,523.2 1168.7,530 1171.2,537.5 1176.2,545 1180,546.2 1406.2,546.2 1408.7,537.5 1410,517.5 1413.7,515 1425,514.5 1436.7,512" fill="none" stroke="#f8be6e" stroke-width="1"/>
<polyline points="484.2,352.2 502.5,352.2 507.5,353 523.7,353 529.5,358 535.5,390 540.7,418.7 546.2,422.5 552.5,436.2 557.5,447 560.5,470 563,485.5 568,486.5 669,486.5 672,497 678.7,521 685,548 691,552.5 697.5,553.6 797.5,553.6 802.5,550.5 812.5,549.5 920,549.5 927.5,546.7 1016,546.5 1019.7,527 1026,494.5 1030,492.8 1043.8,492.3 1048.6,486.5 1083,486.5 1088.2,490.5 1093.5,511.5 1099.5,519 1245,519.2 1248.5,495 1252,489.5 1272.5,487 1278,479 1283,456.5 1290,455 1295.6,441 1301.2,435 1305,417 1310,390 1311.7,383.2 1371.2,383.2" fill="none" stroke="#ebcfee" stroke-width="1"/>
<line x1="8" y1="275.6" x2="1437" y2="275.6" stroke="#4caf50" stroke-width="2" stroke-dasharray="4 2.05"/>
<rect x="8" y="431.5" width="1429" height="4" fill="#f44336"/>
<g shape-rendering="crispEdges">
<rect x="152" y="194" width="5" height="41" fill="#26a69a"/>
<rect x="160" y="162" width="1" height="34" fill="#26a69a"/>
<rect x="158" y="162" width="5" height="33" fill="#26a69a"/>
<rect x="165" y="147" width="1" height="24" fill="#26a69a"/>
<rect x="163" y="147" width="5" height="17" fill="#26a69a"/>
<rect x="169" y="130" width="5" height="18" fill="#26a69a"/>
<rect x="174" y="130" width="5" height="21" fill="#ef5350"/>
<rect x="182" y="137" width="1" height="23" fill="#26a69a"/>
<rect x="180" y="137" width="5" height="15" fill="#26a69a"/>
<rect x="186" y="118" width="5" height="19" fill="#26a69a"/>
<rect x="193" y="118" width="1" height="30" fill="#ef5350"/>
<rect x="191" y="118" width="5" height="12" fill="#ef5350"/>
<rect x="197" y="129" width="5" height="51" fill="#ef5350"/>
<rect x="202" y="180" width="5" height="70" fill="#ef5350"/>
<rect x="210" y="249" width="1" height="17" fill="#ef5350"/>
<rect x="208" y="249" width="5" height="7" fill="#ef5350"/>
<rect x="214" y="255" width="5" height="32" fill="#ef5350"/>
<rect x="221" y="282" width="1" height="25" fill="#ef5350"/>
<rect x="219" y="286" width="5" height="21" fill="#ef5350"/>
<rect x="225" y="306" width="5" height="77" fill="#ef5350"/>
<rect x="232" y="382" width="1" height="42" fill="#ef5350"/>
<rect x="230" y="382" width="5" height="25" fill="#ef5350"/>
<rect x="236" y="406" width="5" height="45" fill="#ef5350"/>
<rect x="243" y="448" width="1" height="23" fill="#ef5350"/>
<rect x="241" y="450" width="5" height="21" fill="#ef5350"/>
<rect x="247" y="470" width="5" height="35" fill="#ef5350"/>
<rect x="253" y="465" width="5" height="40" fill="#26a69a"/>
<rect x="260" y="449" width="1" height="17" fill="#26a69a"/>
<rect x="258" y="462" width="5" height="4" fill="#26a69a"/>
<rect x="266" y="446" width="1" height="17" fill="#26a69a"/>
<rect x="264" y="455" width="5" height="8" fill="#26a69a"/>
<rect x="271" y="434" width="1" height="25" fill="#26a69a"/>
<rect x="269" y="434" width="5" height="22" fill="#26a69a"/>
<rect x="277" y="432" width="1" height="25" fill="#ef5350"/>
<rect x="275" y="434" width="5" height="23" fill="#ef5350"/>
<rect x="283" y="456" width="1" height="18" fill="#ef5350"/>
<rect x="281" y="456" width="5" height="11" fill="#ef5350"/>
<rect x="288" y="454" width="1" height="26" fill="#ef5350"/>
<rect x="286" y="466" width="5" height="14" fill="#ef5350"/>
<rect x="294" y="450" width="1" height="30" fill="#26a69a"/>
<rect x="292" y="457" width="5" height="23" fill="#26a69a"/>
<rect x="299" y="445" width="1" height="13" fill="#26a69a"/>
<rect x="297" y="446" width="5" height="12" fill="#26a69a"/>
<rect x="305" y="443" width="1" height="34" fill="#ef5350"/>
<rect x="303" y="445" width="5" height="32" fill="#ef5350"/>
<rect x="309" y="476" width="5" height="11" fill="#ef5350"/>
<rect x="314" y="457" width="5" height="30" fill="#26a69a"/>
<rect x="320" y="428" width="5" height="30" fill="#26a69a"/>
<rect x="325" y="426" width="5" height="3" fill="#26a69a"/>
<rect x="331" y="383" width="5" height="44" fill="#26a69a"/>
<rect x="336" y="383" width="5" height="38" fill="#ef5350"/>
<rect x="344" y="419" width="1" height="37" fill="#ef5350"/>
<rect x="342" y="419" width="5" height="22" fill="#ef5350"/>
<rect x="348" y="433" width="5" height="8" fill="#26a69a"/>
<rect x="353" y="433" width="5" height="34" fill="#ef5350"/>
<rect x="361" y="465" width="1" height="10" fill="#ef5350"/>
<rect x="359" y="467" width="5" height="4" fill="#ef5350"/>
<rect x="364" y="464" width="5" height="7" fill="#26a69a"/>
<rect x="370" y="464" width="5" height="6" fill="#ef5350"/>
<rect x="376" y="469" width="5" height="19" fill="#ef5350"/>
<rect x="381" y="486" width="5" height="35" fill="#ef5350"/>
<rect x="389" y="520" width="1" height="27" fill="#ef5350"/>
<rect x="387" y="520" width="5" height="23" fill="#ef5350"/>
<rect x="394" y="542" width="1" height="15" fill="#ef5350"/>
<rect x="392" y="543" width="5" height="12" fill="#ef5350"/>
<rect x="398" y="554" width="5" height="10" fill="#ef5350"/>
<rect x="406" y="562" width="1" height="25" fill="#ef5350"/>
<rect x="404" y="562" width="5" height="6" fill="#ef5350"/>
<rect x="411" y="556" width="1" height="15" fill="#26a69a"/>
<rect x="409" y="556" width="5" height="12" fill="#26a69a"/>
<rect x="417" y="543" width="1" height="15" fill="#26a69a"/>
<rect x="415" y="543" width="5" height="14" fill="#26a69a"/>
<rect x="422" y="539" width="1" height="11" fill="#26a69a"/>
<rect x="420" y="539" width="5" height="6" fill="#26a69a"/>
<rect x="428" y="530" width="1" height="11" fill="#26a69a"/>
<rect x="426" y="535" width="5" height="5" fill="#26a69a"/>
<rect x="432" y="535" width="5" height="25" fill="#ef5350"/>
<rect x="437" y="559" width="5" height="20" fill="#ef5350"/>
<rect x="445" y="572" width="1" height="8" fill="#ef5350"/>
<rect x="443" y="578" width="5" height="2" fill="#ef5350"/>
<rect x="448" y="567" width="5" height="12" fill="#26a69a"/>
<rect x="454" y="562" width="5" height="6" fill="#26a69a"/>
<rect x="462" y="559" width="1" height="4" fill="#26a69a"/>
<rect x="460" y="561" width="5" height="2" fill="#26a69a"/>
<rect x="467" y="534" width="1" height="29" fill="#26a69a"/>
<rect x="465" y="539" width="5" height="24" fill="#26a69a"/>
<rect x="471" y="498" width="5" height="42" fill="#26a69a"/>
<rect x="476" y="498" width="5" height="24" fill="#ef5350"/>
<rect x="482" y="508" width="5" height="14" fill="#26a69a"/>
<rect x="489" y="502" width="1" height="7" fill="#26a69a"/>
<rect x="487" y="504" width="5" height="5" fill="#26a69a"/>
<rect x="493" y="504" width="5" height="24" fill="#ef5350"/>
<rect x="501" y="526" width="1" height="10" fill="#ef5350"/>
<rect x="499" y="526" width="5" height="9" fill="#ef5350"/>
<rect x="504" y="534" width="5" height="55" fill="#ef5350"/>
<rect x="510" y="557" width="5" height="32" fill="#26a69a"/>
<rect x="517" y="535" width="1" height="39" fill="#26a69a"/>
<rect x="515" y="537" width="5" height="21" fill="#26a69a"/>
<rect x="521" y="520" width="5" height="17" fill="#26a69a"/>
<rect x="527" y="509" width="5" height="13" fill="#26a69a"/>
<rect x="534" y="509" width="1" height="24" fill="#ef5350"/>
<rect x="532" y="509" width="5" height="22" fill="#ef5350"/>
<rect x="540" y="528" width="1" height="7" fill="#26a69a"/>
<rect x="538" y="529" width="5" height="2" fill="#26a69a"/>
<rect x="545" y="530" width="1" height="10" fill="#ef5350"/>
<rect x="543" y="530" width="5" height="9" fill="#ef5350"/>
<rect x="549" y="525" width="5" height="14" fill="#26a69a"/>
<rect x="555" y="509" width="5" height="17" fill="#26a69a"/>
<rect x="560" y="490" width="5" height="20" fill="#26a69a"/>
<rect x="566" y="477" width="5" height="14" fill="#26a69a"/>
<rect x="573" y="475" width="1" height="6" fill="#ef5350"/>
<rect x="571" y="476" width="5" height="5" fill="#ef5350"/>
<rect x="577" y="476" width="5" height="5" fill="#26a69a"/>
<rect x="584" y="444" width="1" height="33" fill="#26a69a"/>
<rect x="582" y="445" width="5" height="32" fill="#26a69a"/>
<rect x="588" y="445" width="5" height="32" fill="#ef5350"/>
<rect x="596" y="477" width="1" height="18" fill="#ef5350"/>
<rect x="594" y="477" width="5" height="14" fill="#ef5350"/>
<rect x="601" y="484" width="1" height="24" fill="#26a69a"/>
<rect x="599" y="485" width="5" height="7" fill="#26a69a"/>
<rect x="605" y="477" width="5" height="9" fill="#26a69a"/>
<rect x="612" y="467" width="1" height="12" fill="#26a69a"/>
<rect x="610" y="468" width="5" height="11" fill="#26a69a"/>
<rect x="618" y="466" width="1" height="13" fill="#26a69a"/>
<rect x="616" y="466" width="5" height="2" fill="#26a69a"/>
<rect x="624" y="463" width="1" height="4" fill="#ef5350"/>
<rect x="622" y="466" width="5" height="1" fill="#ef5350"/>
<rect x="629" y="467" width="1" height="38" fill="#ef5350"/>
<rect x="627" y="467" width="5" height="25" fill="#ef5350"/>
<rect x="635" y="479" width="1" height="15" fill="#26a69a"/>
<rect x="633" y="479" width="5" height="13" fill="#26a69a"/>
<rect x="638" y="479" width="5" height="19" fill="#ef5350"/>
<rect x="646" y="494" width="1" height="8" fill="#26a69a"/>
<rect x="644" y="494" width="5" height="4" fill="#26a69a"/>
<rect x="652" y="494" width="1" height="24" fill="#ef5350"/>
<rect x="650" y="494" width="5" height="20" fill="#ef5350"/>
<rect x="657" y="511" width="1" height="4" fill="#26a69a"/>
<rect x="655" y="511" width="5" height="3" fill="#26a69a"/>
<rect x="663" y="503" width="1" height="9" fill="#26a69a"/>
<rect x="661" y="505" width="5" height="7" fill="#26a69a"/>
<rect x="668" y="505" width="1" height="18" fill="#ef5350"/>
<rect x="666" y="505" width="5" height="1" fill="#ef5350"/>
<rect x="674" y="489" width="1" height="22" fill="#26a69a"/>
<rect x="672" y="489" width="5" height="18" fill="#26a69a"/>
<rect x="678" y="489" width="5" height="65" fill="#ef5350"/>
<rect x="685" y="553" width="1" height="109" fill="#ef5350"/>
<rect x="683" y="553" width="5" height="49" fill="#ef5350"/>
<rect x="691" y="555" width="1" height="48" fill="#26a69a"/>
<rect x="689" y="558" width="5" height="45" fill="#26a69a"/>
<rect x="696" y="535" width="1" height="23" fill="#26a69a"/>
<rect x="694" y="539" width="5" height="19" fill="#26a69a"/>
<rect x="700" y="539" width="5" height="12" fill="#ef5350"/>
<rect x="705" y="538" width="5" height="13" fill="#26a69a"/>
<rect x="713" y="538" width="1" height="17" fill="#ef5350"/>
<rect x="711" y="538" width="5" height="2" fill="#ef5350"/>
<rect x="717" y="531" width="5" height="9" fill="#26a69a"/>
<rect x="722" y="519" width="5" height="13" fill="#26a69a"/>
<rect x="730" y="512" width="1" height="8" fill="#26a69a"/>
<rect x="728" y="514" width="5" height="6" fill="#26a69a"/>
<rect x="733" y="514" width="5" height="6" fill="#ef5350"/>
<rect x="739" y="503" width="5" height="17" fill="#26a69a"/>
<rect x="747" y="503" width="1" height="6" fill="#ef5350"/>
<rect x="745" y="503" width="5" height="3" fill="#ef5350"/>
<rect x="752" y="504" width="1" height="5" fill="#26a69a"/>
<rect x="750" y="504" width="5" height="3" fill="#26a69a"/>
<rect x="758" y="501" width="1" height="16" fill="#26a69a"/>
<rect x="756" y="501" width="5" height="4" fill="#26a69a"/>
<rect x="761" y="491" width="5" height="10" fill="#26a69a"/>
<rect x="769" y="487" width="1" height="17" fill="#ef5350"/>
<rect x="767" y="491" width="5" height="13" fill="#ef5350"/>
<rect x="773" y="487" width="5" height="17" fill="#26a69a"/>
<rect x="780" y="480" width="1" height="8" fill="#26a69a"/>
<rect x="778" y="484" width="5" height="4" fill="#26a69a"/>
<rect x="784" y="466" width="5" height="18" fill="#26a69a"/>
<rect x="791" y="450" width="1" height="28" fill="#26a69a"/>
<rect x="789" y="450" width="5" height="17" fill="#26a69a"/>
<rect x="795" y="443" width="5" height="8" fill="#26a69a"/>
<rect x="800" y="439" width="5" height="5" fill="#26a69a"/>
<rect x="808" y="437" width="1" height="6" fill="#26a69a"/>
<rect x="806" y="437" width="5" height="1" fill="#26a69a"/>
<rect x="814" y="435" width="1" height="15" fill="#ef5350"/>
<rect x="812" y="436" width="5" height="14" fill="#ef5350"/>
<rect x="819" y="450" width="1" height="14" fill="#ef5350"/>
<rect x="817" y="450" width="5" height="5" fill="#ef5350"/>
<rect x="825" y="445" width="1" height="10" fill="#26a69a"/>
<rect x="823" y="446" width="5" height="9" fill="#26a69a"/>
<rect x="830" y="446" width="1" height="19" fill="#ef5350"/>
<rect x="828" y="446" width="5" height="12" fill="#ef5350"/>
<rect x="834" y="457" width="5" height="30" fill="#ef5350"/>
<rect x="842" y="464" width="1" height="24" fill="#26a69a"/>
<rect x="840" y="464" width="5" height="23" fill="#26a69a"/>
<rect x="847" y="464" width="1" height="31" fill="#ef5350"/>
<rect x="845" y="465" width="5" height="30" fill="#ef5350"/>
<rect x="853" y="494" width="1" height="18" fill="#26a69a"/>
<rect x="851" y="494" width="5" height="1" fill="#26a69a"/>
<rect x="856" y="458" width="5" height="37" fill="#26a69a"/>
<rect x="864" y="451" width="1" height="14" fill="#26a69a"/>
<rect x="862" y="458" width="5" height="1" fill="#26a69a"/>
<rect x="868" y="445" width="5" height="14" fill="#26a69a"/>
<rect x="873" y="445" width="5" height="3" fill="#ef5350"/>
<rect x="881" y="444" width="1" height="9" fill="#26a69a"/>
<rect x="879" y="444" width="5" height="4" fill="#26a69a"/>
<rect x="886" y="441" width="1" height="9" fill="#26a69a"/>
<rect x="884" y="442" width="5" height="4" fill="#26a69a"/>
<rect x="890" y="441" width="5" height="9" fill="#ef5350"/>
<rect x="898" y="444" width="1" height="10" fill="#26a69a"/>
<rect x="896" y="444" width="5" height="6" fill="#26a69a"/>
<rect x="903" y="445" width="1" height="23" fill="#ef5350"/>
<rect x="901" y="445" width="5" height="13" fill="#ef5350"/>
<rect x="909" y="449" width="1" height="12" fill="#26a69a"/>
<rect x="907" y="449" width="5" height="9" fill="#26a69a"/>
<rect x="912" y="441" width="5" height="9" fill="#26a69a"/>
<rect x="920" y="441" width="1" height="8" fill="#26a69a"/>
<rect x="918" y="441" width="5" height="1" fill="#26a69a"/>
<rect x="925" y="431" width="1" height="11" fill="#26a69a"/>
<rect x="923" y="432" width="5" height="10" fill="#26a69a"/>
<rect x="931" y="430" width="1" height="7" fill="#26a69a"/>
<rect x="929" y="431" width="5" height="3" fill="#26a69a"/>
<rect x="937" y="431" width="1" height="45" fill="#ef5350"/>
<rect x="935" y="431" width="5" height="35" fill="#ef5350"/>
<rect x="942" y="447" width="1" height="20" fill="#26a69a"/>
<rect x="940" y="448" width="5" height="19" fill="#26a69a"/>
<rect x="948" y="447" width="1" height="22" fill="#ef5350"/>
<rect x="946" y="447" width="5" height="5" fill="#ef5350"/>
<rect x="951" y="446" width="5" height="6" fill="#26a69a"/>
<rect x="959" y="445" width="1" height="8" fill="#ef5350"/>
<rect x="957" y="446" width="5" height="6" fill="#ef5350"/>
<rect x="965" y="440" width="1" height="12" fill="#26a69a"/>
<rect x="963" y="440" width="5" height="11" fill="#26a69a"/>
<rect x="970" y="440" width="1" height="16" fill="#ef5350"/>
<rect x="968" y="440" width="5" height="13" fill="#ef5350"/>
<rect x="974" y="453" width="5" height="36" fill="#ef5350"/>
<rect x="981" y="488" width="1" height="17" fill="#ef5350"/>
<rect x="979" y="488" width="5" height="15" fill="#ef5350"/>
<rect x="987" y="498" width="1" height="9" fill="#26a69a"/>
<rect x="985" y="498" width="5" height="4" fill="#26a69a"/>
<rect x="993" y="488" width="1" height="12" fill="#26a69a"/>
<rect x="991" y="491" width="5" height="9" fill="#26a69a"/>
<rect x="996" y="491" width="5" height="8" fill="#ef5350"/>
<rect x="1002" y="498" width="5" height="25" fill="#ef5350"/>
<rect x="1009" y="522" width="1" height="15" fill="#ef5350"/>
<rect x="1007" y="522" width="5" height="13" fill="#ef5350"/>
<rect x="1015" y="524" width="1" height="11" fill="#26a69a"/>
<rect x="1013" y="525" width="5" height="10" fill="#26a69a"/>
<rect x="1019" y="525" width="5" height="15" fill="#ef5350"/>
<rect x="1026" y="540" width="1" height="4" fill="#ef5350"/>
<rect x="1024" y="540" width="5" height="2" fill="#ef5350"/>
<rect x="1032" y="535" width="1" height="6" fill="#26a69a"/>
<rect x="1030" y="538" width="5" height="3" fill="#26a69a"/>
<rect x="1037" y="534" width="1" height="5" fill="#26a69a"/>
<rect x="1035" y="535" width="5" height="4" fill="#26a69a"/>
<rect x="1043" y="534" width="1" height="4" fill="#26a69a"/>
<rect x="1041" y="534" width="5" height="3" fill="#26a69a"/>
<rect x="1046" y="529" width="5" height="6" fill="#26a69a"/>
<rect x="1052" y="530" width="5" height="5" fill="#ef5350"/>
<rect x="1060" y="528" width="1" height="11" fill="#26a69a"/>
<rect x="1058" y="528" width="5" height="7" fill="#26a69a"/>
<rect x="1065" y="528" width="1" height="7" fill="#ef5350"/>
<rect x="1063" y="528" width="5" height="5" fill="#ef5350"/>
<rect x="1069" y="532" width="5" height="12" fill="#ef5350"/>
<rect x="1076" y="535" width="1" height="8" fill="#26a69a"/>
<rect x="1074" y="536" width="5" height="7" fill="#26a69a"/>
<rect x="1082" y="535" width="1" height="6" fill="#ef5350"/>
<rect x="1080" y="535" width="5" height="2" fill="#ef5350"/>
<rect x="1088" y="537" width="1" height="14" fill="#ef5350"/>
<rect x="1086" y="537" width="5" height="13" fill="#ef5350"/>
<rect x="1091" y="548" width="5" height="45" fill="#ef5350"/>
<rect x="1099" y="592" width="1" height="17" fill="#ef5350"/>
<rect x="1097" y="592" width="5" height="2" fill="#ef5350"/>
<rect x="1102" y="588" width="5" height="6" fill="#26a69a"/>
<rect x="1110" y="586" width="1" height="17" fill="#ef5350"/>
<rect x="1108" y="588" width="5" height="15" fill="#ef5350"/>
<rect x="1114" y="586" width="5" height="17" fill="#26a69a"/>
<rect x="1121" y="577" width="1" height="10" fill="#26a69a"/>
<rect x="1119" y="578" width="5" height="9" fill="#26a69a"/>
<rect x="1125" y="579" width="5" height="7" fill="#ef5350"/>
<rect x="1130" y="584" width="5" height="20" fill="#ef5350"/>
<rect x="1136" y="550" width="5" height="56" fill="#26a69a"/>
<rect x="1144" y="547" width="1" height="16" fill="#26a69a"/>
<rect x="1142" y="547" width="5" height="4" fill="#26a69a"/>
<rect x="1149" y="525" width="1" height="24" fill="#26a69a"/>
<rect x="1147" y="525" width="5" height="23" fill="#26a69a"/>
<rect x="1155" y="524" width="1" height="15" fill="#ef5350"/>
<rect x="1153" y="525" width="5" height="1" fill="#ef5350"/>
<rect x="1158" y="525" width="5" height="22" fill="#ef5350"/>
<rect x="1164" y="529" width="5" height="18" fill="#26a69a"/>
<rect x="1169" y="529" width="5" height="3" fill="#ef5350"/>
<rect x="1177" y="519" width="1" height="13" fill="#26a69a"/>
<rect x="1175" y="523" width="5" height="9" fill="#26a69a"/>
<rect x="1183" y="522" width="1" height="9" fill="#ef5350"/>
<rect x="1181" y="523" width="5" height="7" fill="#ef5350"/>
<rect x="1188" y="524" width="1" height="13" fill="#26a69a"/>
<rect x="1186" y="524" width="5" height="5" fill="#26a69a"/>
<rect x="1194" y="519" width="1" height="7" fill="#26a69a"/>
<rect x="1192" y="519" width="5" height="6" fill="#26a69a"/>
<rect x="1199" y="519" width="1" height="4" fill="#ef5350"/>
<rect x="1197" y="520" width="5" height="3" fill="#ef5350"/>
<rect x="1203" y="522" width="5" height="23" fill="#ef5350"/>
<rect x="1209" y="544" width="5" height="20" fill="#ef5350"/>
<rect x="1214" y="556" width="5" height="8" fill="#26a69a"/>
<rect x="1222" y="541" width="1" height="17" fill="#26a69a"/>
<rect x="1220" y="541" width="5" height="16" fill="#26a69a"/>
<rect x="1225" y="528" width="5" height="14" fill="#26a69a"/>
<rect x="1231" y="496" width="5" height="33" fill="#26a69a"/>
<rect x="1239" y="471" width="1" height="27" fill="#26a69a"/>
<rect x="1237" y="471" width="5" height="26" fill="#26a69a"/>
<rect x="1242" y="445" width="5" height="27" fill="#26a69a"/>
<rect x="1248" y="368" width="5" height="78" fill="#26a69a"/>
<rect x="1255" y="367" width="1" height="46" fill="#ef5350"/>
<rect x="1253" y="367" width="5" height="39" fill="#ef5350"/>
<rect x="1259" y="380" width="5" height="27" fill="#26a69a"/>
<rect x="1264" y="364" width="5" height="16" fill="#26a69a"/>
<rect x="1272" y="365" width="1" height="33" fill="#ef5350"/>
<rect x="1270" y="365" width="5" height="21" fill="#ef5350"/>
<rect x="1276" y="347" width="5" height="38" fill="#26a69a"/>
<rect x="1281" y="304" width="5" height="44" fill="#26a69a"/>
<rect x="1289" y="304" width="1" height="28" fill="#ef5350"/>
<rect x="1287" y="304" width="5" height="6" fill="#ef5350"/>
<rect x="1292" y="277" width="5" height="33" fill="#26a69a"/>
<rect x="1300" y="264" width="1" height="38" fill="#26a69a"/>
<rect x="1298" y="264" width="5" height="14" fill="#26a69a"/>
<rect x="1306" y="215" width="1" height="53" fill="#26a69a"/>
<rect x="1304" y="215" width="5" height="51" fill="#26a69a"/>
<rect x="1311" y="158" width="1" height="80" fill="#ef5350"/>
<rect x="1309" y="215" width="5" height="16" fill="#ef5350"/>
<rect x="1317" y="211" width="1" height="153" fill="#ef5350"/>
<rect x="1315" y="229" width="5" height="73" fill="#ef5350"/>
<rect x="1322" y="294" width="1" height="85" fill="#26a69a"/>
<rect x="1320" y="294" width="5" height="9" fill="#26a69a"/>
<rect x="1328" y="280" width="1" height="23" fill="#26a69a"/>
<rect x="1326" y="280" width="5" height="14" fill="#26a69a"/>
<rect x="1334" y="280" width="1" height="44" fill="#ef5350"/>
<rect x="1332" y="280" width="5" height="38" fill="#ef5350"/>
<rect x="1339" y="307" width="1" height="25" fill="#26a69a"/>
<rect x="1337" y="315" width="5" height="4" fill="#26a69a"/>
<rect x="1345" y="292" width="1" height="24" fill="#26a69a"/>
<rect x="1343" y="302" width="5" height="14" fill="#26a69a"/>
<rect x="1350" y="302" width="1" height="19" fill="#ef5350"/>
<rect x="1348" y="302" width="5" height="17" fill="#ef5350"/>
<rect x="1354" y="291" width="5" height="27" fill="#26a69a"/>
<rect x="1362" y="290" width="1" height="47" fill="#ef5350"/>
<rect x="1360" y="290" width="5" height="37" fill="#ef5350"/>
<rect x="1367" y="327" width="1" height="45" fill="#ef5350"/>
<rect x="1365" y="327" width="5" height="38" fill="#ef5350"/>
<rect x="1373" y="344" width="1" height="67" fill="#ef5350"/>
<rect x="1371" y="364" width="5" height="19" fill="#ef5350"/>
<rect x="1378" y="382" width="1" height="27" fill="#ef5350"/>
<rect x="1376" y="382" width="5" height="10" fill="#ef5350"/>
</g>
<line x1="8" y1="391.5" x2="1437" y2="391.5" stroke="#ef5350" stroke-width="1" stroke-dasharray="1.5 1.5"/>
<polyline points="210.2,758.4 214.9,759.9 221.2,761.9 227.4,756.1 232.4,756.1 237.4,757.9 244.9,763.6 249.2,765.6 255.4,753.6 261.2,754.6 266.2,753.6 272.4,750.4 277.4,750.4 283.7,757.4 289.9,759.1 294.9,760.6 299.9,761.6 304.9,761.6 311.6,766.6 316.1,763.6 322.4,761.6 327.4,762.6 333.6,760.6 338.6,757.9 344.9,756.4 351.1,757.4 356.1,755.1 361.1,757.1 366.1,757.4 372.3,759.4 378.6,761.6 383.6,759.4 389.8,768.4 394.8,769.6 401.1,769.6 406.6,771.6 412.3,770.4 417.3,768.6 423.6,768.6 428.6,768.6 434.3,767.6 439.8,769.6 445.3,771.6 451,770.6 456,770.6 462.3,771.6 467.3,769.6 472.3,763.6 477.8,761.4 483.5,761.4 489.8,764.6 494.8,763.6 501,763.4 502.5,762.4 506.2,753.6 511.2,750.6 517.5,750.4 523.7,750.6 529.5,754.4 535,754.6 541.2,754.6 546.2,755.6 552.5,755.4 557.5,755.4 562.5,767.4 568,770.4 573.7,770.6 579.4,771.9 584.9,768.4 590.4,766.6 596.2,765.6 601.2,765.6 607.4,766.6 612.9,766.6 618.7,767.6 624.4,768.6 629.4,765.6 634.9,765.6 641.2,769.4 646.7,772.6 652.4,771.6 657.9,771.6 663.6,772.6 669.1,773.6 674.1,771.6 680.4,759.4 686.1,752.6 691.6,747.4 697.4,746.6 702.4,746.6 708.6,746.6 714.4,746.6 719.9,746.6 724.8,745.6 730.3,746.6 736.1,757.4 741.8,767.6 747.3,775.4 752.8,776.6 758.6,778.4 763.6,779.6 769.3,776.6 774.8,776.6 780.6,776.6 786.1,775.6 791.8,775.6 797.3,776.6 803,776.6 808.5,776.6 814.3,774.6 819.8,774.6 825.3,775.6 831,775.6 836.5,770.6 842.3,769.4 847.8,768.6 853.5,768.6 859,763.4 872.5,763.4 886.2,763.4 892,766.4 897.5,768.4 903,771.4 908.7,771.6 914.2,778.4 920,778.6 925.5,779.6 931.2,779.6 936.7,772.6 942.4,770.4 947.9,770.4 953.7,770.4 959.2,771.4 964.9,770.4 970.4,770.4 976.2,766.6 981.7,766.4 987.4,766.6 992.9,769.4 998.7,771.6 1004.2,769.4 1009.9,770.4 1015.4,769.4 1021.1,770.4 1026.6,770.6 1032.4,773.6 1037.9,774.6 1043.6,774.6 1049.1,774.6 1054.9,774.6 1060.4,777.4 1066.1,778.4 1071.6,778.6 1077.4,780.6 1082.8,780.6 1087.8,778.6 1093.6,767.6 1099.1,767.6 1104.8,767.6 1110.3,767.6 1116.1,765.6 1121.6,764.4 1127.3,765.4 1132.3,764.4 1133,763.4 1138.7,753.6 1144.2,753.6 1150,759.6 1155,759.6 1160.5,757.6 1166.2,758.6 1171.7,758.6 1177.5,758.6 1183,758.6 1188.7,761.6 1194.5,772.6 1200,772.6 1205.4,771.4 1211.2,770.4 1216.7,771.6 1222.4,772.6 1227.9,771.4 1233.7,767.4 1239.2,765.6 1244.9,764.4 1250.4,754.6 1255.4,750.4 1261.2,753.4 1266.7,756.6 1272.4,753.6 1277.9,753.6 1283.6,752.6 1289.1,751.6 1294.9,751.6 1300.4,751.6 1306.1,757.6 1311.6,763.4 1317.4,751.6 1322.9,751.6 1328.6,752.6 1334.1,751.6 1339.9,754.4 1345.4,754.6 1351.1,755.6 1356.6,754.6 1362.3,758.6 1367.3,756.4 1373.6,763.4 1378.6,764.6" fill="none" stroke="#26c6da" stroke-width="1" stroke-linejoin="round"/>
<g shape-rendering="crispEdges">
<rect x="6" y="43" width="1497" height="1" fill="#4f525e"/>
<rect x="6" y="812" width="1497" height="1" fill="#4f525e"/>
<rect x="6" y="43" width="1" height="770" fill="#4f525e"/>
<rect x="1502" y="43" width="1" height="770" fill="#4f525e"/>
<rect x="1438" y="43" width="1" height="770" fill="#4f525e"/>
<rect x="6" y="740" width="1497" height="1" fill="#4f525e"/>
<rect x="6" y="784" width="1497" height="1" fill="#4f525e"/>
<rect x="1439" y="57" width="4" height="1" fill="#4f525e"/>
<rect x="1439" y="87" width="4" height="1" fill="#4f525e"/>
<rect x="1439" y="117" width="4" height="1" fill="#4f525e"/>
<rect x="1439" y="148" width="4" height="1" fill="#4f525e"/>
<rect x="1439" y="178" width="4" height="1" fill="#4f525e"/>
<rect x="1439" y="208" width="4" height="1" fill="#4f525e"/>
<rect x="1439" y="238" width="4" height="1" fill="#4f525e"/>
<rect x="1439" y="269" width="4" height="1" fill="#4f525e"/>
<rect x="1439" y="299" width="4" height="1" fill="#4f525e"/>
<rect x="1439" y="329" width="4" height="1" fill="#4f525e"/>
<rect x="1439" y="360" width="4" height="1" fill="#4f525e"/>
<rect x="1439" y="390" width="4" height="1" fill="#4f525e"/>
<rect x="1439" y="420" width="4" height="1" fill="#4f525e"/>
<rect x="1439" y="450" width="4" height="1" fill="#4f525e"/>
<rect x="1439" y="481" width="4" height="1" fill="#4f525e"/>
<rect x="1439" y="511" width="4" height="1" fill="#4f525e"/>
<rect x="1439" y="541" width="4" height="1" fill="#4f525e"/>
<rect x="1439" y="571" width="4" height="1" fill="#4f525e"/>
<rect x="1439" y="602" width="4" height="1" fill="#4f525e"/>
<rect x="1439" y="632" width="4" height="1" fill="#4f525e"/>
<rect x="1439" y="662" width="4" height="1" fill="#4f525e"/>
<rect x="1439" y="692" width="4" height="1" fill="#4f525e"/>
<rect x="1439" y="723" width="4" height="1" fill="#4f525e"/>
<rect x="205" y="785" width="1" height="3" fill="#4f525e"/>
<rect x="289" y="785" width="1" height="3" fill="#4f525e"/>
<rect x="379" y="785" width="1" height="3" fill="#4f525e"/>
<rect x="462" y="785" width="1" height="3" fill="#4f525e"/>
<rect x="546" y="785" width="1" height="3" fill="#4f525e"/>
<rect x="630" y="785" width="1" height="3" fill="#4f525e"/>
<rect x="720" y="785" width="1" height="3" fill="#4f525e"/>
<rect x="803" y="785" width="1" height="3" fill="#4f525e"/>
<rect x="887" y="785" width="1" height="3" fill="#4f525e"/>
<rect x="971" y="785" width="1" height="3" fill="#4f525e"/>
<rect x="1061" y="785" width="1" height="3" fill="#4f525e"/>
<rect x="1145" y="785" width="1" height="3" fill="#4f525e"/>
<rect x="1234" y="785" width="1" height="3" fill="#4f525e"/>
<rect x="1396" y="785" width="1" height="3" fill="#4f525e"/>
</g>
<text x="1447.4" y="61.7" font-size="11.5" fill="#555861">107.5</text>
<text x="1447.4" y="91.7" font-size="11.5" fill="#555861">105.0</text>
<text x="1447.4" y="121.7" font-size="11.5" fill="#555861">102.5</text>
<text x="1447.4" y="152.7" font-size="11.5" fill="#555861">100.0</text>
<text x="1447.4" y="182.7" font-size="11.5" fill="#555861">97.5</text>
<text x="1447.4" y="212.7" font-size="11.5" fill="#555861">95.0</text>
<text x="1447.4" y="242.7" font-size="11.5" fill="#555861">92.5</text>
<text x="1447.4" y="273.7" font-size="11.5" fill="#555861">90.0</text>
<text x="1447.4" y="303.7" font-size="11.5" fill="#555861">87.5</text>
<text x="1447.4" y="333.7" font-size="11.5" fill="#555861">85.0</text>
<text x="1447.4" y="364.7" font-size="11.5" fill="#555861">82.5</text>
<text x="1447.4" y="394.7" font-size="11.5" fill="#555861">80.0</text>
<text x="1447.4" y="424.7" font-size="11.5" fill="#555861">77.5</text>
<text x="1447.4" y="454.7" font-size="11.5" fill="#555861">75.0</text>
<text x="1447.4" y="485.7" font-size="11.5" fill="#555861">72.5</text>
<text x="1447.4" y="515.7" font-size="11.5" fill="#555861">70.0</text>
<text x="1447.4" y="545.7" font-size="11.5" fill="#555861">67.5</text>
<text x="1447.4" y="575.7" font-size="11.5" fill="#555861">65.0</text>
<text x="1447.4" y="606.7" font-size="11.5" fill="#555861">62.5</text>
<text x="1447.4" y="636.7" font-size="11.5" fill="#555861">60.0</text>
<text x="1447.4" y="666.7" font-size="11.5" fill="#555861">57.5</text>
<text x="1447.4" y="696.7" font-size="11.5" fill="#555861">55.0</text>
<text x="1447.4" y="727.7" font-size="11.5" fill="#555861">52.5</text>
<text x="205.5" y="804" font-size="11.5" fill="#555861" text-anchor="middle">Aug</text>
<text x="289.5" y="804" font-size="11.5" fill="#555861" text-anchor="middle">16</text>
<text x="379.5" y="804" font-size="11.5" fill="#555861" text-anchor="middle">Sep</text>
<text x="462.5" y="804" font-size="11.5" fill="#555861" text-anchor="middle">16</text>
<text x="546.5" y="804" font-size="11.5" fill="#555861" text-anchor="middle">Oct</text>
<text x="630.5" y="804" font-size="11.5" fill="#555861" text-anchor="middle">16</text>
<text x="720.5" y="804" font-size="11.5" fill="#555861" text-anchor="middle">Nov</text>
<text x="803.5" y="804" font-size="11.5" fill="#555861" text-anchor="middle">16</text>
<text x="887.5" y="804" font-size="11.5" fill="#555861" text-anchor="middle">Dec</text>
<text x="971.5" y="804" font-size="11.5" fill="#555861" text-anchor="middle">16</text>
<text x="1061.5" y="804" font-size="11.5" fill="#555861" text-anchor="middle">2020</text>
<text x="1145.5" y="804" font-size="11.5" fill="#555861" text-anchor="middle">16</text>
<text x="1234.5" y="804" font-size="11.5" fill="#555861" text-anchor="middle">Feb</text>
<text x="1396.5" y="804" font-size="11.5" fill="#555861" text-anchor="middle">Mar</text>
<g shape-rendering="crispEdges">
<rect x="1439" y="266" width="40" height="17" fill="#4caf50"/>
<rect x="1439" y="382" width="40" height="18" fill="#ef5350"/>
<rect x="1439" y="401" width="59" height="18" fill="#ef5350"/>
<rect x="1439" y="424" width="40" height="18" fill="#f44336"/>
<rect x="1439" y="275" width="4" height="1" fill="#fff"/>
<rect x="1439" y="391" width="4" height="1" fill="#fff"/>
<rect x="1439" y="433" width="4" height="1" fill="#fff"/>
</g>
<g font-weight="bold" font-size="12" fill="#fff">
<text x="1447.3" y="279.3">89.5</text>
<text x="1447.3" y="395.2">79.9</text>
<text x="1443" y="414.3" textLength="46.2" lengthAdjust="spacingAndGlyphs">17:53:58</text>
<text x="1447.3" y="437.3">76.4</text>
</g>
<g font-size="13" fill="#1c1e2a">
<text x="6.5" y="16.8" textLength="43.6" lengthAdjust="spacingAndGlyphs" font-weight="bold">dkukan</text>
<text x="54.2" y="16.8" textLength="52.5" lengthAdjust="spacingAndGlyphs">published</text>
<text x="110.8" y="16.8" textLength="12.8" lengthAdjust="spacingAndGlyphs">on</text>
<text x="127.7" y="16.8" textLength="100.9" lengthAdjust="spacingAndGlyphs">TradingView.com,</text>
<text x="233.8" y="16.8" textLength="48.5" lengthAdjust="spacingAndGlyphs">February</text>
<text x="286" y="16.8" textLength="17.6" lengthAdjust="spacingAndGlyphs">27,</text>
<text x="307.3" y="16.8" textLength="26.9" lengthAdjust="spacingAndGlyphs">2020</text>
<text x="337.9" y="16.8" textLength="49.2" lengthAdjust="spacingAndGlyphs">07:06:03</text>
<text x="391.4" y="16.8" textLength="19.8" lengthAdjust="spacingAndGlyphs">CET</text>
<text x="6.5" y="33.9" textLength="222.1" lengthAdjust="spacingAndGlyphs" font-weight="bold">1000*FTX:SHITPERP/BITMEX:XBTUSD,</text>
<text x="233.4" y="33.9" textLength="8.2" lengthAdjust="spacingAndGlyphs" font-weight="bold">D</text>
<text x="248.1" y="33.9" textLength="23.6" lengthAdjust="spacingAndGlyphs">79.9</text>
<path d="M274.6 26 L285.2 26 L279.9 34.4 Z" fill="#ef5350"/>
<text x="289.7" y="33.9" textLength="24.1" lengthAdjust="spacingAndGlyphs">−0.7</text>
<text x="317.9" y="33.9" textLength="49.4" lengthAdjust="spacingAndGlyphs">(−0.93%)</text>
<text x="371.3" y="33.9" textLength="12.1" lengthAdjust="spacingAndGlyphs" font-weight="bold">O:</text>
<text x="385.8" y="33.9" textLength="23.6" lengthAdjust="spacingAndGlyphs" fill="#ef5350">80.6</text>
<text x="415" y="33.9" textLength="11.1" lengthAdjust="spacingAndGlyphs" font-weight="bold">H:</text>
<text x="428.5" y="33.9" textLength="24.1" lengthAdjust="spacingAndGlyphs" fill="#ef5350">80.6</text>
<text x="457.6" y="33.9" textLength="8.7" lengthAdjust="spacingAndGlyphs" font-weight="bold">L:</text>
<text x="468.8" y="33.9" textLength="23.5" lengthAdjust="spacingAndGlyphs" fill="#ef5350">78.5</text>
<text x="497.5" y="33.9" textLength="9.7" lengthAdjust="spacingAndGlyphs" font-weight="bold">C:</text>
<text x="509.6" y="33.9" textLength="23.7" lengthAdjust="spacingAndGlyphs" fill="#ef5350">79.9</text>
</g>
<g transform="translate(5.8,823)"><clipPath id="lc"><rect x="-1" y="-1" width="29" height="15.9"/></clipPath><g clip-path="url(#lc)" fill="#2196f3"><circle cx="5.2" cy="9.9" r="5.1"/><circle cx="11.2" cy="6.6" r="6.6"/><circle cx="20.3" cy="9.2" r="5.9"/><rect x="5.2" y="9" width="15.2" height="6"/></g><polyline points="0.6,12.8 9.9,4.8 16.2,11.5 22.8,4.8" fill="none" stroke="#fff" stroke-width="1.2"/><circle cx="9.9" cy="4.8" r="1.6" fill="#fff"/><circle cx="16.2" cy="11.5" r="1.6" fill="#fff"/></g>
<text x="34.1" y="834.9" font-size="13" fill="#1c1e2a" textLength="71" lengthAdjust="spacingAndGlyphs">TradingView</text>
</svg>
</body></html>
